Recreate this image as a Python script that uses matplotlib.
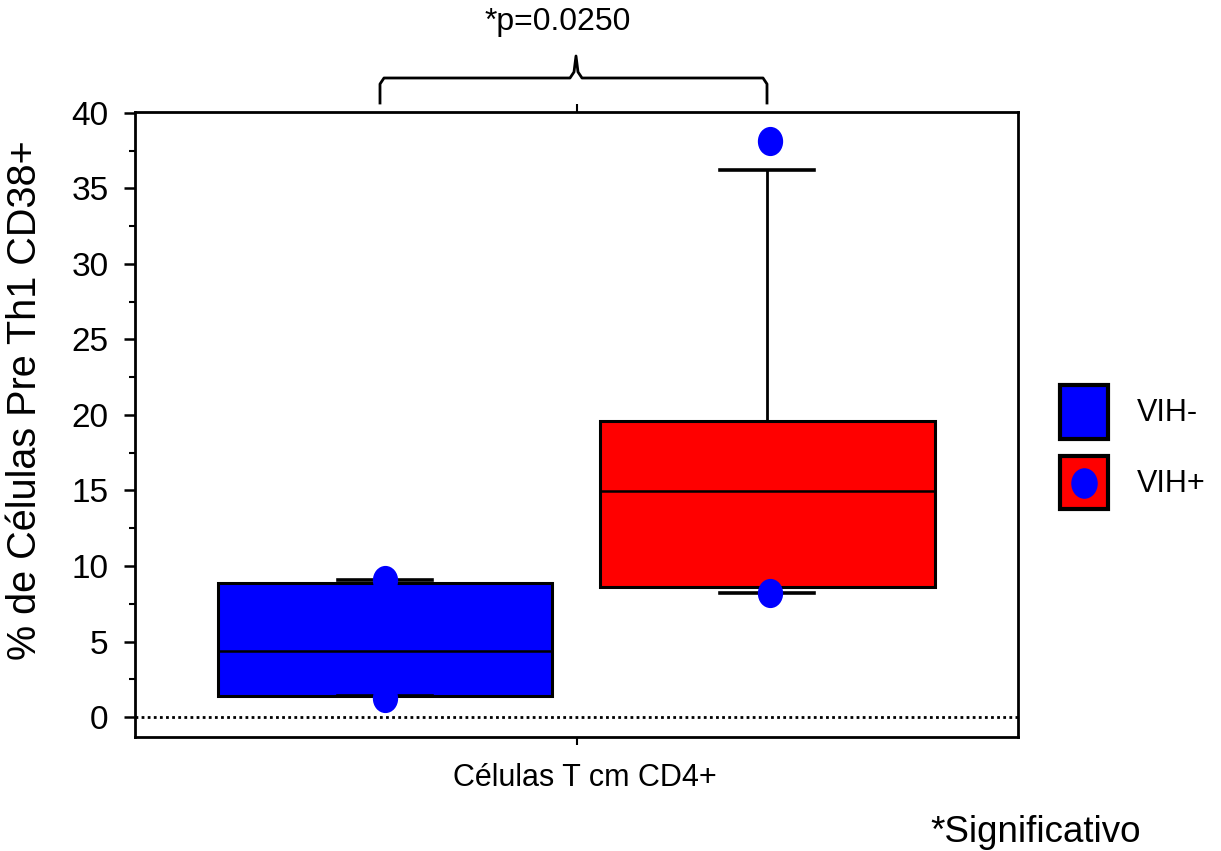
import matplotlib
matplotlib.use("Agg")
import matplotlib.pyplot as plt
import matplotlib.path as mpath
from matplotlib.transforms import Affine2D
from matplotlib.patches import Patch
from matplotlib.lines import Line2D
from matplotlib.legend_handler import HandlerTuple, HandlerBase
from matplotlib import font_manager as fm

# ---- data ----
groups = ["VIH-", "VIH+"]
q1 = [1.4, 8.6]
medians = [4.4, 14.95]
q3 = [8.9, 19.6]
whis_lo = [1.4, 8.2]
whis_hi = [9.1, 36.2]
points_vih_neg = [9.1, 1.25]
points_vih_pos = [38.1, 8.2]
box_colors = ["#0000ff", "#ff0000"]
yticks = [0, 5, 10, 15, 20, 25, 30, 35, 40]
xlabel = "Células T cm CD4+"
ylabel = "% de Células Pre Th1 CD38+"
ptext = "*p=0.0250"
note = "*Significativo"

names = {f.name for f in fm.fontManager.ttflist}
fam = "Liberation Sans Narrow" if "Liberation Sans Narrow" in names else "Liberation Sans"
plt.rcParams["font.family"] = [fam, "DejaVu Sans"]

W, H = 1221, 851
fig = plt.figure(figsize=(W / 100, H / 100), dpi=100)
L, R, B, T = 135, 1018, 737, 112
ax = fig.add_axes([L / W, 1 - B / H, (R - L) / W, (B - T) / H])

positions = [2.83, 7.16]
widths = 3.79
stats = []
for i in range(len(groups)):
    stats.append(dict(med=medians[i], q1=q1[i], q3=q3[i],
                      whislo=whis_lo[i], whishi=whis_hi[i], fliers=[], label=groups[i]))

bp = ax.bxp(stats, positions=positions, widths=widths, patch_artist=True,
            showfliers=False, capwidths=1.06,
            boxprops=dict(linewidth=2.2, edgecolor="black"),
            medianprops=dict(color="black", linewidth=1.8),
            whiskerprops=dict(color="black", linewidth=2.0),
            capprops=dict(color="black", linewidth=2.6))
for patch, c in zip(bp["boxes"], box_colors):
    patch.set_facecolor(c)

ell = mpath.Path.unit_circle().transformed(Affine2D().scale(0.86, 1.0))
ax.plot([positions[0]] * len(points_vih_neg), points_vih_neg, linestyle="none",
        marker=ell, markersize=20, color="#0000ff", zorder=5)
ax.plot([positions[1] + 0.03] * len(points_vih_pos), points_vih_pos, linestyle="none",
        marker=ell, markersize=20, color="#0000ff", zorder=5)

ax.axhline(0, color="black", linestyle=(0, (1, 1.2)), linewidth=2.0, zorder=1)

ax.set_xlim(0, 10)
ax.set_ylim(-1.32, 40.05)
ax.set_yticks(yticks)
ax.set_yticks([2.5 + 5 * k for k in range(8)], minor=True)
ax.set_xticks([5])
ax.set_xticklabels([""])
ax.tick_params(axis="y", which="major", direction="out", length=8, width=1.8, labelsize=24, pad=11)
ax.tick_params(axis="y", which="minor", direction="out", length=4, width=1.5)
ax.tick_params(axis="x", which="major", direction="out", length=6, width=1.5, top=True)
for s in ax.spines.values():
    s.set_linewidth(2.0)

fig.text(25 / W, 1 - 400 / H, ylabel, rotation=90, ha="center", va="center", fontsize=28.5)
fig.text(585 / W, 1 - 778 / H, xlabel, ha="center", va="center", fontsize=22)
fig.text(558 / W, 1 - 22 / H, ptext, ha="center", va="center", fontsize=23)
fig.text(1036 / W, 1 - 833 / H, note, ha="center", va="center", fontsize=26.5)

# significance brace (figure pixel coordinates)
def px(x, y):
    return x / W, 1 - y / H
bx = [380, 380, 384, 570, 574, 576, 578, 582, 763, 767, 767]
by = [103, 84, 78, 78, 72, 56, 72, 78, 78, 84, 103]
pts = [px(x, y) for x, y in zip(bx, by)]
fig.add_artist(Line2D([p[0] for p in pts], [p[1] for p in pts], color="black",
                      linewidth=2.0, transform=fig.transFigure))


class CenterMarker(HandlerBase):
    def create_artists(self, legend, orig_handle, xdescent, ydescent,
                       width, height, fontsize, trans):
        ln = Line2D([width / 2 - xdescent], [height / 2 - ydescent],
                    marker=orig_handle.get_marker(), markersize=orig_handle.get_markersize(),
                    color=orig_handle.get_color(), linestyle="none")
        ln.set_transform(trans)
        return [ln]


dot = Line2D([], [], marker=ell, markersize=21, color="#0000ff", linestyle="none")
handles = [Patch(facecolor=box_colors[0], edgecolor="black", linewidth=3),
           (Patch(facecolor=box_colors[1], edgecolor="black", linewidth=3), dot)]
fig.legend(handles, groups, loc="upper left", bbox_to_anchor=(1057 / W, 1 - 382 / H),
           frameon=False, fontsize=22, handlelength=1.57, handleheight=2.33,
           labelspacing=0.55, handletextpad=0.95, borderpad=0.1, borderaxespad=0,
           handler_map={tuple: HandlerTuple(ndivide=1, pad=0), dot: CenterMarker()})

fig.savefig("out.png", dpi=100)
